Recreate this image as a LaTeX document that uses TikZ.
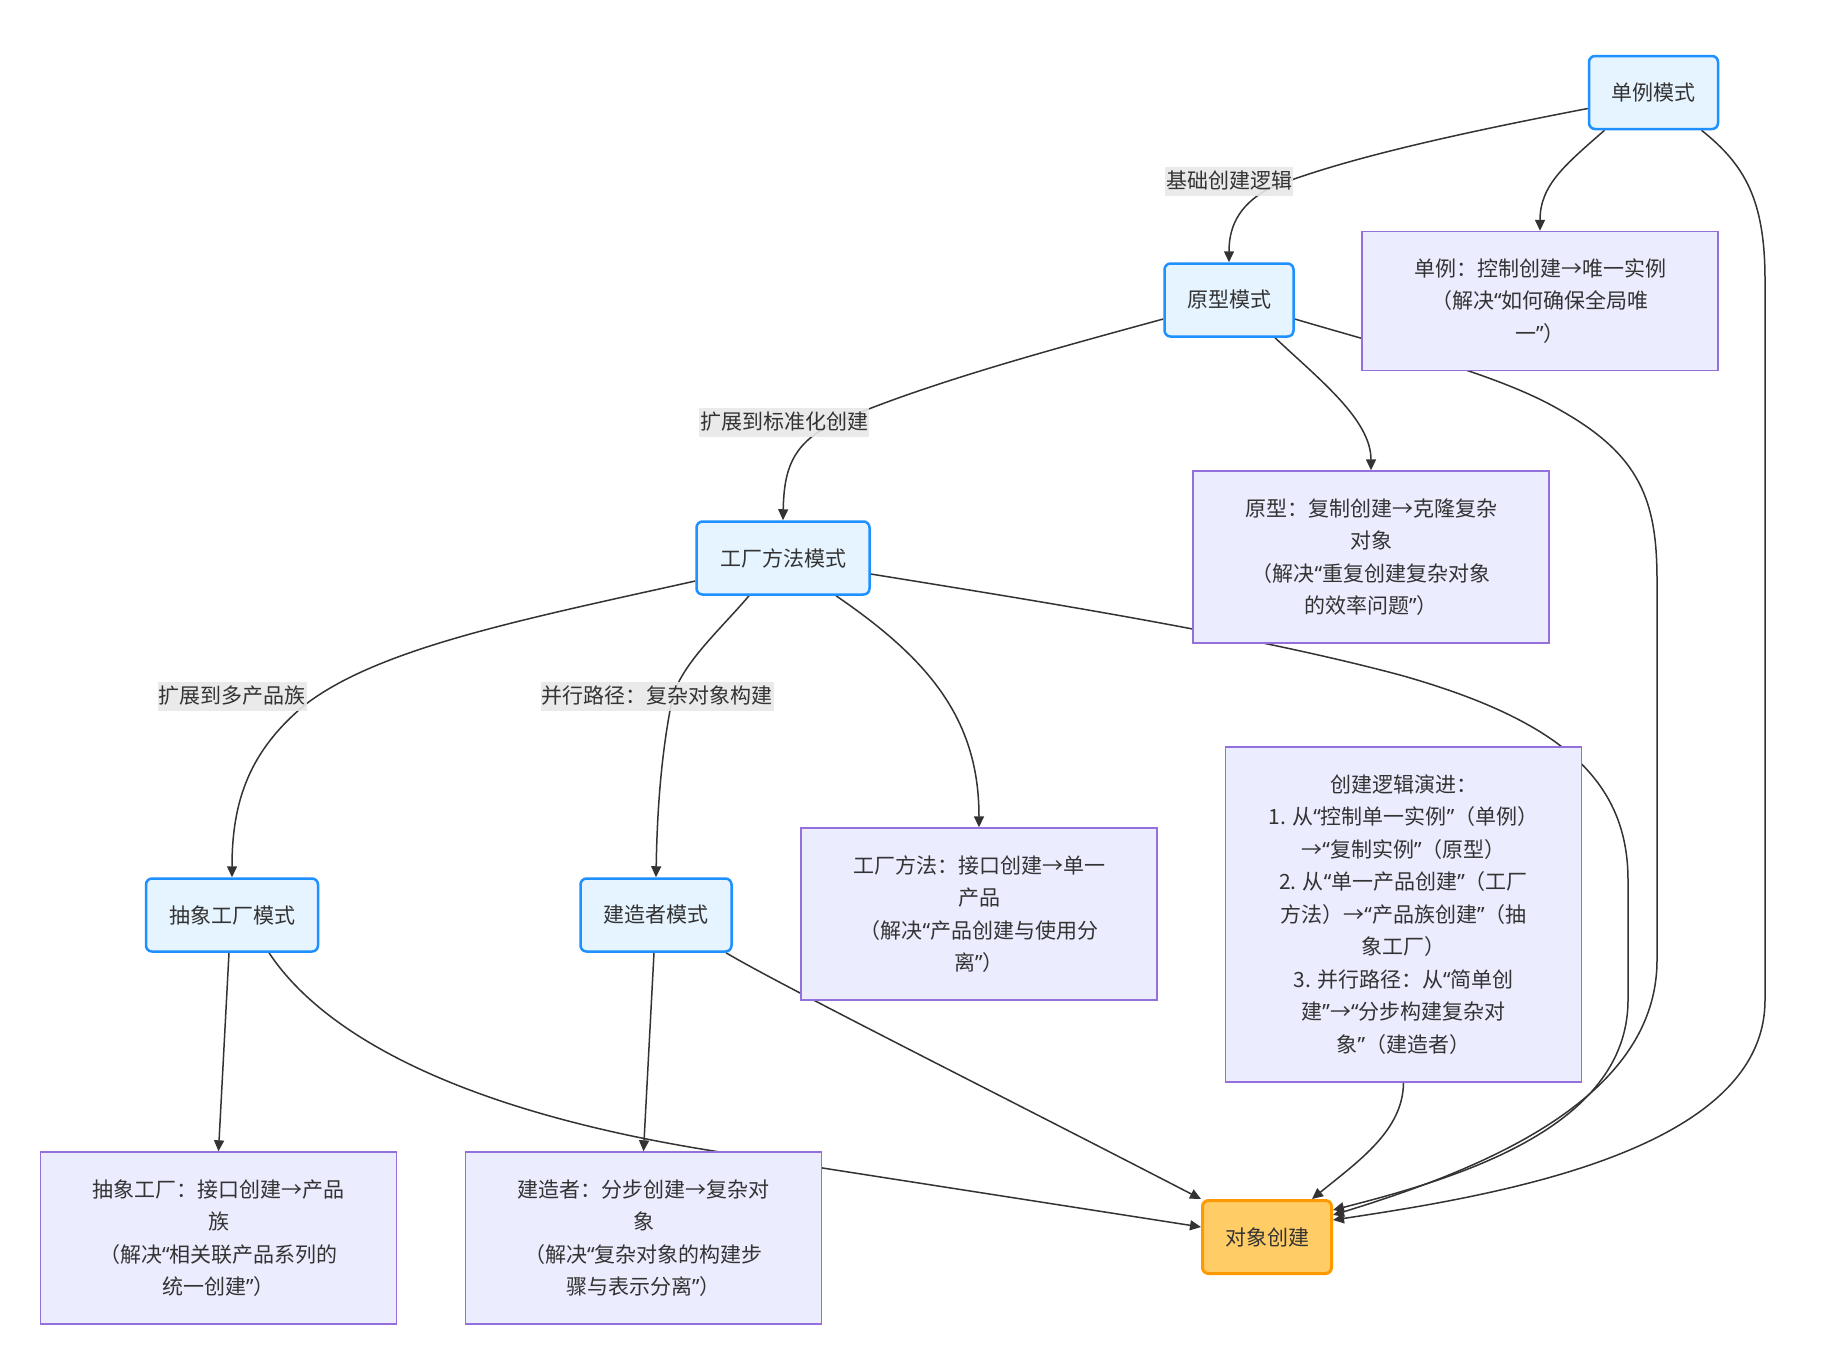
\documentclass[tikz,border=0pt]{standalone}
\usepackage{fontspec}
\setmainfont{Noto Sans CJK SC}
\newfontfamily\qf{Noto Sans}
\newcommand\oq{{\qf “}}
\newcommand\cq{{\qf ”}}
\usetikzlibrary{arrows.meta,backgrounds}
\definecolor{txt}{HTML}{333333}
\definecolor{pfill}{HTML}{E6F4FF}
\definecolor{pdraw}{HTML}{1E90FF}
\definecolor{nfill}{HTML}{ECECFF}
\definecolor{ndraw}{HTML}{9370DB}
\definecolor{ofill}{HTML}{FFCC66}
\definecolor{odraw}{HTML}{FF9900}
\definecolor{lfill}{HTML}{E8E8E8}
\begin{document}
\begin{tikzpicture}[x=1pt,y=-1pt,
 every node/.style={font=\fontsize{21}{32.5}\selectfont, text=txt},
 pat/.style={draw=pdraw, fill=pfill, line width=2.5pt, rounded corners=6pt, minimum height=73pt, inner sep=0pt},
 note/.style={draw=ndraw, fill=nfill, line width=1.4pt, minimum width=356pt, align=center, inner sep=0pt},
 objn/.style={draw=odraw, fill=ofill, line width=3pt, rounded corners=6pt, minimum height=73pt, minimum width=129pt, inner sep=0pt},
 elbl/.style={fill=lfill, fill opacity=0.9, text opacity=1, inner xsep=1pt, inner ysep=0pt, minimum height=29pt},
 conn/.style={draw=txt, line width=1.5pt, -{Triangle[length=11pt,width=10pt]}}
]
\useasboundingbox (0,0) rectangle (1821,1369);

\node[pat, minimum width=129pt] (single) at (1653.5,92.5) {单例模式};
\node[pat, minimum width=129pt] (proto) at (1229,300) {原型模式};
\node[pat, minimum width=173pt] (factory) at (783,558) {工厂方法模式};
\node[pat, minimum width=172pt] (abstract) at (232,915) {抽象工厂模式};
\node[pat, minimum width=151pt] (builder) at (656,915) {建造者模式};
\node[objn] (obj) at (1267,1237) {对象创建};

\node[note, minimum height=139pt] (n1) at (1540,301) {单例：控制创建→唯一实例\\（解决\oq 如何确保全局唯\\一\cq）};
\node[note, minimum height=172pt] (n2) at (1371,557) {原型：复制创建→克隆复杂\\对象\\（解决\oq 重复创建复杂对象\\的效率问题\cq）};
\node[note, minimum height=172pt] (n3) at (979,914) {工厂方法：接口创建→单一\\产品\\（解决\oq 产品创建与使用分\\离\cq）};
\node[note, minimum height=335pt] (n4) at (1403.5,914.5) {创建逻辑演进：\\1. 从\oq 控制单一实例\cq（单例）\\→\oq 复制实例\cq（原型）\\2. 从\oq 单一产品创建\cq（工厂\\方法）→\oq 产品族创建\cq（抽\\象工厂）\\3. 并行路径：从\oq 简单创\\建\cq→\oq 分步构建复杂对\\象\cq（建造者）};
\node[note, minimum height=172pt] (n5) at (218.5,1238) {抽象工厂：接口创建→产品\\族\\（解决\oq 相关联产品系列的\\统一创建\cq）};
\node[note, minimum height=172pt] (n6) at (643.5,1238) {建造者：分步创建→复杂对\\象\\（解决\oq 复杂对象的构建步\\骤与表示分离\cq）};

\node[elbl] (l1) at (1229,181) {基础创建逻辑};
\node[elbl] (l2) at (784,422) {扩展到标准化创建};
\node[elbl] (l3) at (232,696) {扩展到多产品族};
\node[elbl] (l4) at (657,696) {并行路径：复杂对象构建};

\begin{pgfonlayer}{background}
\fill[white] (0,0) rectangle (1821,1369);
% single -> proto
\draw[conn] ([yshift=-16pt]single.west) .. controls (1450,135) and (1340,160) .. (1270,188) .. controls (1236,206) and (1229,230) .. (proto.north);
% single -> n1
\draw[conn] ([xshift=-49pt]single.south) .. controls (1565,165) and (1540,185) .. (n1.north);
% single -> obj
\draw[conn] ([xshift=48pt]single.south) .. controls (1745,165) and (1765,200) .. (1765,280) -- (1765,1000) .. controls (1765,1150) and (1500,1195) .. ([yshift=17pt]obj.east);
% proto -> factory
\draw[conn] ([yshift=-19pt]proto.west) .. controls (1050,350) and (920,385) .. (830,425) .. controls (792,445) and (784,470) .. (factory.north);
% proto -> n2
\draw[conn] ([xshift=46pt]proto.south) .. controls (1320,380) and (1371,420) .. (n2.north);
% proto -> obj
\draw[conn] ([yshift=-19pt]proto.east) .. controls (1400,350) and (1500,375) .. (1560,410) .. controls (1640,455) and (1657,500) .. (1657,580) -- (1657,960) .. controls (1657,1100) and (1480,1170) .. ([yshift=22pt]obj.east);
% factory -> abstract
\draw[conn] ([yshift=-23pt]factory.west) .. controls (520,620) and (380,648) .. (306,704) .. controls (250,750) and (232,800) .. (abstract.north);
% factory -> builder
\draw[conn] ([xshift=-34pt]factory.south) .. controls (720,630) and (680,665) .. (672,700) .. controls (660,760) and (657,820) .. (builder.north);
% factory -> n3
\draw[conn] ([xshift=53pt]factory.south) .. controls (930,660) and (979,720) .. (n3.north);
% factory -> obj
\draw[conn] ([yshift=-16pt]factory.east) .. controls (1050,603) and (1250,635) .. (1400,675) .. controls (1560,720) and (1628,780) .. (1628,880) -- (1628,1000) .. controls (1628,1130) and (1450,1180) .. ([yshift=27pt]obj.east);
% abstract -> n5
\draw[conn] ([xshift=-3pt]abstract.south) -- (n5.north);
% abstract -> obj
\draw[conn] ([xshift=37pt]abstract.south) .. controls (320,1030) and (450,1110) .. (720,1152) -- ([yshift=10pt]obj.west);
% builder -> n6
\draw[conn] ([xshift=-2pt]builder.south) -- (n6.north);
% builder -> obj
\draw[conn] ([xshift=70pt]builder.south) .. controls (780,985) and (1000,1095) .. (obj.north west);
% n4 -> obj
\draw[conn] (n4.south) .. controls (1403,1130) and (1360,1160) .. ([xshift=45pt]obj.north);
\end{pgfonlayer}
\end{tikzpicture}
\end{document}
